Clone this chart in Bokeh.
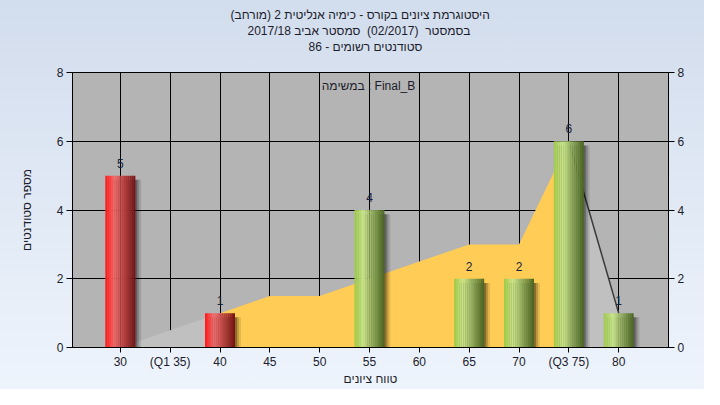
import numpy as np
from bokeh.plotting import figure
from bokeh.models import (FixedTicker, LinearAxis, Range1d, Label, Title, ColumnDataSource)
from bokeh.embed import file_html
from bokeh.resources import INLINE
from bokeh.core.properties import value

# ---------------- data ----------------
title_lines = [
    "(היסטוגרמת ציונים בקורס - כימיה אנליטית 2 (מורחב",
    "בסמסטר \u00a0(02/2017) \u00a0סמסטר אביב 2017/18",
    "סטודנטים רשומים - 86",
]
legend_text = "במשימה : Final_B"
x_title = "טווח ציונים"
y_title = "מספר סטודנטים"

x_ticks = [30, 35, 40, 45, 50, 55, 60, 65, 70, 75, 80]
x_tick_labels = ["30", "(Q1 35)", "40", "45", "50", "55", "60", "65", "70", "(Q3 75)", "80"]
y_ticks = [0, 2, 4, 6, 8]

bar_grades = [30, 40, 55, 65, 70, 75, 80]
bar_counts = [5, 1, 4, 2, 2, 6, 1]
bar_failing = [True, True, False, False, False, False, False]

dist_values = [0, 0.5, 1, 1.5, 1.5, 2, 2.5, 3, 3, 6, 1]

# ---------------- style ----------------
FONT = "Liberation Sans"
TXT = "#1c1c2c"
BAR_W = 3.0
N_STRIPS = 16
RED_STOPS = [(0.0, (255, 20, 20)), (0.3, (242, 108, 108)), (1.0, (116, 16, 16))]
GREEN_STOPS = [(0.0, (156, 202, 70)), (0.3, (200, 228, 140)), (1.0, (72, 98, 32))]
FRAME_H = 275
Y_MAX = 8
PX_PER_Y = FRAME_H / Y_MAX
TITLE_OFFSETS = [158, 175, 236]   # px from frame left, per title line


def grad(stops, t):
    for (t0, c0), (t1, c1) in zip(stops[:-1], stops[1:]):
        if t0 <= t <= t1:
            f = (t - t0) / (t1 - t0)
            r, g, b = [int(round(a + (bb - a) * f)) for a, bb in zip(c0, c1)]
            return "#%02x%02x%02x" % (r, g, b)
    r, g, b = stops[-1][1]
    return "#%02x%02x%02x" % (r, g, b)


p = figure(
    frame_width=596, frame_height=FRAME_H,
    min_border_left=72, min_border_right=36, min_border_top=72, min_border_bottom=42,
    x_range=Range1d(25.2, 85.0), y_range=Range1d(0, Y_MAX),
    output_backend="svg", toolbar_location=None,
)
p.border_fill_color = None
p.styles = {"background": "linear-gradient(to bottom, #D2DDED, #EEF4FC)"}
p.background_fill_color = "#B4B4B4"
p.outline_line_color = "black"

# titles: p.title is outermost, later-added titles stack outward from the frame
def style_title(t, standoff, offset):
    t.align = "left"
    t.offset = offset
    t.text_font = FONT
    t.text_font_size = "12px"
    t.text_font_style = "normal"
    t.text_line_height = 0.8
    t.text_color = TXT
    t.standoff = standoff

spacer = Title(text="\u00a0")
style_title(spacer, 3, 0)
p.add_layout(spacer, "above")
t3 = Title(text=title_lines[2])
style_title(t3, 0, TITLE_OFFSETS[2])
p.add_layout(t3, "above")
t2 = Title(text=title_lines[1])
style_title(t2, 0, TITLE_OFFSETS[1])
p.add_layout(t2, "above")
p.title.text = title_lines[0]
style_title(p.title, 0, TITLE_OFFSETS[0])

# distribution area
xs = np.array(x_ticks, dtype=float)
ys = np.array(dist_values, dtype=float)
p.varea(x=xs[0:3], y1=0, y2=ys[0:3], fill_color="#C0C0C0")
p.varea(x=xs[2:10], y1=0, y2=ys[2:10], fill_color="#FFCC55")
p.varea(x=xs[9:11], y1=0, y2=ys[9:11], fill_color="#C0C0C0")
p.line(x=xs[9:11], y=ys[9:11], line_color="#3a3a3a", line_width=1.5)

# grid
p.xgrid.ticker = FixedTicker(ticks=x_ticks)
p.ygrid.ticker = FixedTicker(ticks=y_ticks)
for g in (p.xgrid, p.ygrid):
    g.grid_line_color = "black"
    g.grid_line_width = 1
    g.level = "underlay"

# shadows
for off, alpha in [(0.2, 0.28), (0.4, 0.18), (0.6, 0.10)]:
    p.vbar(x=[b + off for b in bar_grades], width=BAR_W, bottom=0,
           top=[c - 0.12 for c in bar_counts], fill_color="black", fill_alpha=alpha,
           line_color=None)

# gradient bars
sx, stop, scol = [], [], []
for gx, cnt, fail in zip(bar_grades, bar_counts, bar_failing):
    stops = RED_STOPS if fail else GREEN_STOPS
    for i in range(N_STRIPS):
        t = (i + 0.5) / N_STRIPS
        sx.append(gx - BAR_W / 2 + t * BAR_W)
        stop.append(cnt)
        scol.append(grad(stops, t))
src = ColumnDataSource(dict(x=sx, top=stop, color=scol))
p.vbar(x="x", top="top", bottom=0, width=BAR_W / N_STRIPS * 1.05, source=src,
       fill_color="color", line_color=None)

# count labels
p.text(x=bar_grades, y=bar_counts, text=[str(c) for c in bar_counts],
       text_align="center", text_baseline="bottom", y_offset=-8,
       text_font=value(FONT), text_font_size="12px", text_color="#15233f")

# legend text
p.add_layout(Label(x=54.9, y=Y_MAX - 13 / PX_PER_Y, text=legend_text, text_align="center",
                   text_baseline="middle", text_font=FONT, text_font_size="12px",
                   text_color=TXT))

# axes
def style_axis(ax):
    ax.axis_line_color = "black"
    ax.major_tick_line_color = "black"
    ax.minor_tick_line_color = None
    ax.major_tick_in = 0
    ax.major_tick_out = 6
    ax.major_label_text_font = FONT
    ax.major_label_text_font_size = "12px"
    ax.major_label_text_color = TXT
    ax.axis_label_text_font = FONT
    ax.axis_label_text_font_size = "12px"
    ax.axis_label_text_font_style = "normal"
    ax.axis_label_text_color = TXT

p.xaxis.ticker = FixedTicker(ticks=x_ticks)
p.xaxis.major_label_overrides = {t: l for t, l in zip(x_ticks, x_tick_labels)}
p.xaxis.axis_label = x_title
style_axis(p.xaxis[0])
p.xaxis.major_tick_out = 5
p.xaxis.major_label_standoff = 2
p.xaxis.axis_label_standoff = 0

p.yaxis.ticker = FixedTicker(ticks=y_ticks)
p.yaxis.axis_label = y_title
style_axis(p.yaxis[0])
p.yaxis.major_label_standoff = 3
p.yaxis.axis_label_standoff = 20

ra = LinearAxis(ticker=FixedTicker(ticks=y_ticks))
style_axis(ra)
ra.major_label_standoff = 3
p.add_layout(ra, "right")

open("out.html", "w").write(file_html(p, INLINE))
